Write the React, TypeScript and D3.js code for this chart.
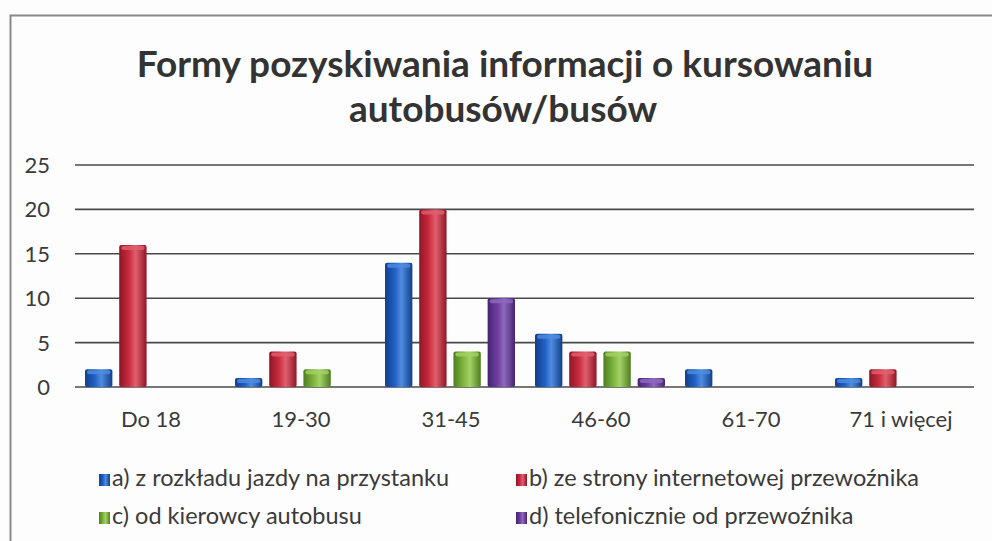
import React from "react";
import * as d3 from "d3";

const categories = ["Do 18", "19-30", "31-45", "46-60", "61-70", "71 i więcej"];
const seriesNames = [
  "a) z rozkładu jazdy na przystanku",
  "b) ze strony internetowej przewoźnika",
  "c) od kierowcy autobusu",
  "d) telefonicznie od przewoźnika",
];
const seriesA = [2, 1, 14, 6, 2, 1];
const seriesB = [16, 4, 20, 4, 0, 2];
const seriesC = [0, 2, 4, 4, 0, 0];
const seriesD = [0, 0, 10, 1, 0, 0];
const yTicks = [0, 5, 10, 15, 20, 25];
const colors = ["#1f5fc4", "#c92a3e", "#7cb33c", "#6a3d9e"];
const darkColors = ["#123f8a", "#8e1626", "#4f7d1f", "#452470"];
const lightColors = ["#4f8ce0", "#e0606e", "#a4d266", "#9068c0"];

const W = 992;
const H = 541;

export default function App() {
  const values = [seriesA, seriesB, seriesC, seriesD];
  const x0 = d3.scaleBand<string>().domain(categories).range([75, 975]).padding(0);
  const x1 = d3
    .scaleBand<number>()
    .domain([0, 1, 2, 3])
    .range([10, x0.bandwidth() - 10])
    .paddingInner(0.2)
    .paddingOuter(0);
  const y = d3.scaleLinear().domain([0, 25]).range([387, 165]);
  const font = "Lato, 'Open Sans', sans-serif";

  return (
    <svg
      width={W}
      height={H}
      style={{ position: "absolute", left: 0, top: 0, background: "#fff" }}
      fontFamily={font}
    >
      <defs>
        {colors.map((c, i) => (
          <linearGradient key={i} id={`g${i}`} x1="0" x2="1" y1="0" y2="0">
            <stop offset="0" stopColor={darkColors[i]} />
            <stop offset="0.35" stopColor={c} />
            <stop offset="0.6" stopColor={lightColors[i]} />
            <stop offset="1" stopColor={darkColors[i]} />
          </linearGradient>
        ))}
      </defs>
      <rect x={0} y={0} width={W} height={H} fill="#fdfdfd" />
      <path d={`M10.5,${H} V15.5 H${W}`} fill="none" stroke="#8a8a8a" strokeWidth={2} />

      <text x={505} y={77} textAnchor="middle" fontSize={37} fontWeight={700} fill="#333">
        Formy pozyskiwania informacji o kursowaniu
      </text>
      <text x={503} y={122} textAnchor="middle" fontSize={37} fontWeight={700} fill="#333">
        autobusów/busów
      </text>

      {yTicks.map((t) => (
        <g key={t}>
          <line x1={75} x2={974} y1={y(t)} y2={y(t)} stroke="#4a4a4a" strokeWidth={1.6} />
          <text x={50} y={y(t) + 8} textAnchor="end" fontSize={22} fill="#3a3a3a">
            {t}
          </text>
        </g>
      ))}

      {categories.map((c, ci) => (
        <g key={c} transform={`translate(${x0(c)},0)`}>
          {values.map((vals, si) => {
            const v = vals[ci];
            if (!v) return null;
            const bx = x1(si) as number;
            const bw = x1.bandwidth();
            const top = y(v);
            return (
              <g key={si}>
                <rect x={bx} y={top} width={bw} height={y(0) - top} fill={`url(#g${si})`} rx={2} />
                <rect x={bx + 2} y={top + 1} width={bw - 4} height={4} fill={lightColors[si]} opacity={0.8} rx={2} />
              </g>
            );
          })}
          <text x={x0.bandwidth() / 2 + 1} y={427} textAnchor="middle" fontSize={22} fill="#3a3a3a">
            {c}
          </text>
        </g>
      ))}

      {seriesNames.map((n, i) => {
        const lx = i % 2 === 0 ? 99 : 516;
        const ly = i < 2 ? 486 : 524;
        return (
          <g key={n}>
            <rect x={lx} y={ly - 12} width={11} height={12} fill={`url(#g${i})`} />
            <text x={lx + 13} y={ly} fontSize={23.5} fill="#3a3a3a">
              {n}
            </text>
          </g>
        );
      })}
    </svg>
  );
}
